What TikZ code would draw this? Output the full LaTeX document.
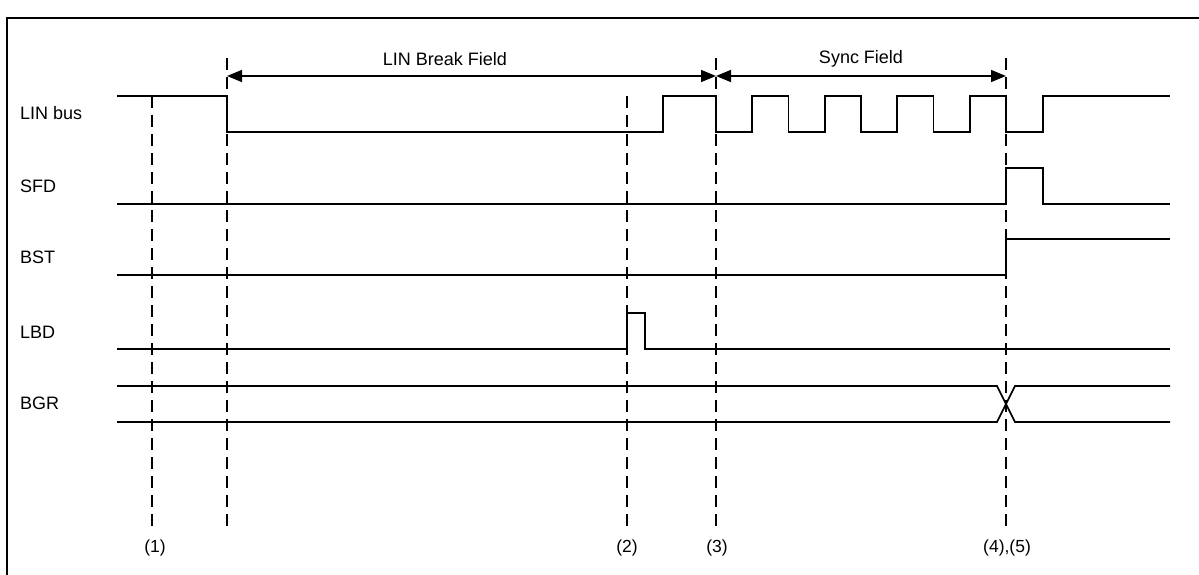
\documentclass[tikz,border=0pt]{standalone}
\usepackage{fontspec}
\setmainfont{Liberation Sans}
\usetikzlibrary{arrows.meta, positioning}

\tikzstyle{sig} = [line width=1.6pt, line join=miter]
\tikzstyle{marker} = [line width=1.4pt, dash pattern=on 12pt off 7pt]
\tikzstyle{fieldarrow} = [{Triangle[length=15pt,width=12pt]}-{Triangle[length=15pt,width=12pt]}, line width=1.6pt]
\tikzstyle{signame} = [anchor=west, inner sep=0pt, font=\fontsize{18}{20}\selectfont]
\tikzstyle{evt} = [inner sep=0pt, font=\fontsize{17.5}{19}\selectfont]

\begin{document}
\begin{tikzpicture}[x=1pt, y=-1pt]

  \useasboundingbox (0,0) rectangle (1199,575);

  % frame
  \draw[line width=2pt] (7,575) -- (7,18) -- (1199,18);

  % signal names
  \node[signame] (linbus) at (20,113) {LIN bus};
  \node[signame] (sfd) at (20,186) {SFD};
  \node[signame] (bst) at (20,257) {BST};
  \node[signame] (lbd) at (20,332) {LBD};
  \node[signame] (bgr) at (20,403) {BGR};

  % marker lines
  \coordinate (m1) at (152,96);
  \coordinate (mb) at (227,58);
  \coordinate (m2) at (627,96);
  \coordinate (m3) at (716,58);
  \coordinate (m4) at (1006,58);
  \coordinate (bot) at (0,527);

  \foreach \m in {m1, mb, m2, m3, m4}
    \draw[marker] (\m) -- (\m |- bot);

  \node[evt] (e1) at (155,548) {(1)};
  \node[evt] (e2) at (627,548) {(2)};
  \node[evt] (e3) at (717,548) {(3)};
  \node[evt] (e4) at (1007,548) {(4),(5)};

  % fields
  \coordinate (a0) at (227,76);
  \coordinate (a1) at (716,76);
  \coordinate (a2) at (1006,76);
  \draw[fieldarrow] (a0) -- (a1);
  \draw[fieldarrow] (a1) -- (a2);
  \node[signame, anchor=center] (brk) at (445,59) {LIN Break Field};
  \node[signame, anchor=center] (sync) at (861,59) {Sync Field};

  % LIN bus
  \draw[sig] (117,96) -- (227,96) -- (227,132) -- (663,132) -- (663,96) -- (716,96) -- (716,132)
    foreach \i in {1,...,4} { -- ++(36.25,0) -- ++(0,-36) -- ++(36.25,0) -- ++(0,36) }
    -- (1043,132) -- (1043,96) -- (1170,96);

  % SFD
  \draw[sig] (117,204) -- (1006,204) -- (1006,168) -- (1043,168) -- (1043,204) -- (1170,204);

  % BST
  \draw[sig] (117,275) -- (1006,275) -- (1006,239) -- (1170,239);

  % LBD
  \draw[sig] (117,349) -- (627,349) -- (627,313) -- (645,313) -- (645,349) -- (1170,349);

  % BGR
  \draw[sig] (117,386) -- (997,386) -- (1015,422) -- (1170,422);
  \draw[sig] (117,422) -- (997,422) -- (1015,386) -- (1170,386);

\end{tikzpicture}
\end{document}
